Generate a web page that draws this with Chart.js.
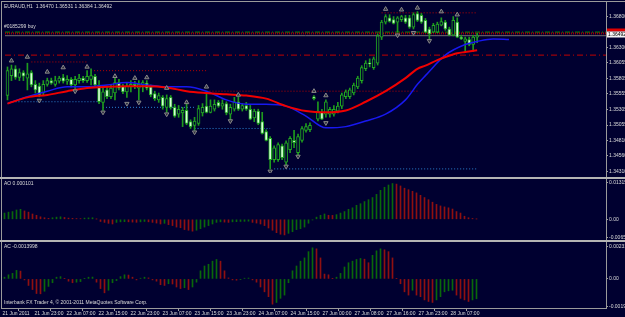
<!DOCTYPE html>
<html>
<head>
<meta charset="utf-8">
<script src="https://cdn.jsdelivr.net/npm/chart.js@4.4.1/dist/chart.umd.min.js"></script>
<style>
html,body{margin:0;padding:0;background:#000030;}
#wrap{position:relative;width:625px;height:317px;overflow:hidden;background:#000030;}
canvas{position:absolute;left:0;}
.ln{position:absolute;background:#9a9a9a;}
.sep{position:absolute;background:#b4b4b4;}
</style>
</head>
<body>
<div id="wrap">
<canvas id="main" width="625" height="178" style="top:0"></canvas>
<canvas id="ao" width="625" height="65" style="top:177px"></canvas>
<canvas id="ac" width="625" height="77" style="top:240px"></canvas>
<div class="ln" style="left:1px;top:1px;width:624px;height:1px"></div>
<div class="ln" style="left:1px;top:1px;width:1px;height:308px"></div>
<div class="ln" style="left:606px;top:1px;width:1px;height:308px"></div>
<div class="ln" style="left:1px;top:308px;width:606px;height:1px"></div>
<div class="sep" style="left:0;top:177px;width:625px;height:2px"></div>
<div class="sep" style="left:0;top:240px;width:625px;height:2px"></div>
</div>
<script>
// EURAUD H1, one entry per bar (index 0 = 21 Jun 2011 15:00)
const open = [1.3553,1.3585,1.3596,1.3582,1.3590,1.3581,1.3590,1.3571,1.3568,1.3557,
1.3571,1.3577,1.3571,1.3576,1.3582,1.3576,1.3579,1.3570,1.3577,1.3581,
1.3577,1.3579,1.3584,1.3570,1.3542,1.3562,1.3551,1.3557,1.3574,1.3568,
1.3559,1.3567,1.3571,1.3565,1.3570,1.3573,1.3567,1.3556,1.3546,1.3550,
1.3534,1.3550,1.3534,1.3523,1.3525,1.3529,1.3511,1.3505,1.3508,1.3525,
1.3536,1.3526,1.3531,1.3542,1.3536,1.3540,1.3523,1.3531,1.3543,1.3531,
1.3537,1.3531,1.3517,1.3528,1.3511,1.3495,1.3484,1.3450,1.3450,1.3472,
1.3446,1.3466,1.3481,1.3461,1.3481,1.3497,1.3498,1.3551,1.3515,1.3526,
1.3523,1.3523,1.3523,1.3528,1.3536,1.3551,1.3551,1.3557,1.3567,1.3577,
1.3596,1.3605,1.3598,1.3605,1.3647,1.3671,1.3678,1.3675,1.3671,1.3675,
1.3678,1.3678,1.3663,1.3685,1.3682,1.3674,1.3660,1.3655,1.3655,1.3666,
1.3671,1.3660,1.3650,1.3671,1.3647,1.3640,1.3643,1.3635,1.3647]
const high = [1.3599,1.3602,1.3601,1.3596,1.3593,1.3605,1.3593,1.3577,1.3573,1.3577,
1.3581,1.3581,1.3584,1.3584,1.3587,1.3585,1.3582,1.3584,1.3587,1.3584,
1.3593,1.3596,1.3587,1.3577,1.3565,1.3567,1.3571,1.3582,1.3579,1.3571,
1.3574,1.3577,1.3576,1.3577,1.3577,1.3577,1.3570,1.3560,1.3557,1.3553,
1.3554,1.3553,1.3539,1.3537,1.3534,1.3540,1.3514,1.3518,1.3537,1.3540,
1.3559,1.3546,1.3546,1.3545,1.3546,1.3543,1.3539,1.3550,1.3551,1.3540,
1.3542,1.3537,1.3531,1.3531,1.3526,1.3498,1.3487,1.3472,1.3477,1.3475,
1.3480,1.3487,1.3497,1.3491,1.3503,1.3508,1.3509,1.3553,1.3543,1.3531,
1.3546,1.3534,1.3537,1.3542,1.3557,1.3562,1.3565,1.3573,1.3584,1.3601,
1.3609,1.3612,1.3615,1.3652,1.3674,1.3683,1.3683,1.3680,1.3680,1.3682,
1.3682,1.3682,1.3686,1.3688,1.3685,1.3677,1.3663,1.3669,1.3671,1.3678,
1.3674,1.3663,1.3680,1.3678,1.3650,1.3647,1.3647,1.3650,1.3653]
const low = [1.3546,1.3577,1.3579,1.3577,1.3577,1.3562,1.3567,1.3557,1.3551,1.3554,
1.3568,1.3571,1.3568,1.3573,1.3573,1.3571,1.3567,1.3562,1.3573,1.3574,
1.3574,1.3570,1.3568,1.3540,1.3529,1.3548,1.3548,1.3546,1.3562,1.3556,
1.3550,1.3559,1.3564,1.3546,1.3559,1.3562,1.3551,1.3545,1.3542,1.3531,
1.3526,1.3531,1.3518,1.3518,1.3503,1.3506,1.3500,1.3497,1.3505,1.3520,
1.3525,1.3525,1.3528,1.3534,1.3531,1.3522,1.3514,1.3528,1.3529,1.3528,
1.3529,1.3514,1.3511,1.3506,1.3491,1.3480,1.3435,1.3446,1.3447,1.3450,
1.3441,1.3461,1.3469,1.3456,1.3478,1.3494,1.3495,1.3546,1.3512,1.3514,
1.3518,1.3518,1.3520,1.3525,1.3532,1.3548,1.3548,1.3554,1.3564,1.3573,
1.3593,1.3599,1.3595,1.3602,1.3643,1.3668,1.3671,1.3668,1.3655,1.3672,
1.3669,1.3661,1.3660,1.3672,1.3669,1.3654,1.3643,1.3654,1.3654,1.3665,
1.3658,1.3649,1.3649,1.3646,1.3643,1.3624,1.3633,1.3624,1.3638]
const close = [1.3593,1.3596,1.3582,1.3590,1.3584,1.3588,1.3570,1.3562,1.3554,1.3571,
1.3577,1.3573,1.3577,1.3581,1.3576,1.3579,1.3570,1.3579,1.3581,1.3577,
1.3584,1.3585,1.3570,1.3543,1.3559,1.3551,1.3565,1.3574,1.3565,1.3559,
1.3568,1.3571,1.3567,1.3571,1.3574,1.3565,1.3554,1.3548,1.3553,1.3536,
1.3548,1.3534,1.3520,1.3531,1.3529,1.3508,1.3503,1.3512,1.3532,1.3534,
1.3526,1.3536,1.3539,1.3536,1.3540,1.3525,1.3534,1.3543,1.3531,1.3537,
1.3531,1.3515,1.3528,1.3508,1.3492,1.3481,1.3450,1.3469,1.3474,1.3453,
1.3477,1.3484,1.3477,1.3487,1.3500,1.3503,1.3505,1.3548,1.3528,1.3515,
1.3543,1.3531,1.3531,1.3536,1.3554,1.3559,1.3562,1.3570,1.3581,1.3598,
1.3605,1.3604,1.3612,1.3649,1.3671,1.3680,1.3672,1.3669,1.3678,1.3680,
1.3671,1.3663,1.3683,1.3674,1.3671,1.3655,1.3652,1.3666,1.3668,1.3672,
1.3660,1.3650,1.3674,1.3647,1.3644,1.3644,1.3635,1.3647,1.3649]

// moving averages, read at some bars (blue one is shifted forward)
const redIdx = [0,5,10,15,20,25,30,35,40,45,50,55,60,65,70,75,80,85,90,95,100,103,105,108,110,113,115,118]
const redMA = [1.3540,1.3550,1.3554,1.3560,1.3565,1.3567,1.3568,1.3568,1.3566,1.3560,
1.3557,1.3555,1.3553,1.3548,1.3536,1.3528,1.3526,1.3529,1.3543,1.3560,
1.3581,1.3596,1.3601,1.3610,1.3615,1.3621,1.3623,1.3626]
const blueIdx = [0,5,10,15,20,25,30,35,40,45,50,55,60,65,70,75,80,85,90,95,100,103,105,110,115,118,122,126]
const blueMA = [1.3540,1.3551,1.3560,1.3567,1.3567,1.3570,1.3574,1.3570,1.3567,1.3567,
1.3560,1.3546,1.3539,1.3539,1.3536,1.3520,1.3501,1.3503,1.3512,1.3523,
1.3546,1.3571,1.3585,1.3618,1.3635,1.3640,1.3644,1.3643]

// fractals
const upIdx = [1,5,10,14,20,27,32,35,40,45,50,58,77,80,95,99,103,109,113]
const upFr = [1.3609,1.3615,1.3591,1.3598,1.3599,1.3584,1.3581,1.3582,1.3565,1.3542,1.3567,1.3554,1.3560,1.3553,1.3692,1.3691,1.3694,1.3688,1.3683]
const dnIdx = [8,17,24,30,33,40,47,56,66,70,73,80,98,102,106]
const dnFr = [1.3545,1.3560,1.3526,1.3540,1.3542,1.3523,1.3494,1.3512,1.3431,1.3439,1.3455,1.3509,1.3650,1.3654,1.3641]

// levels
const buyPrice = 1.3655
const stopPrice = 1.3653
const bidPrice = 1.36492
const redLevel = 1.3618
const resPrice = [1.3607,1.3593,1.3560,1.3686]
const resFrom = [6,21,50,94]
const resTo = [20,50,103,118]
const supPrice = [1.3543,1.3534,1.3500,1.3435]
const supFrom = [2,24,47,67]
const supTo = [23,47,66,118]

// Awesome / Accelerator oscillators
const ao = [0.00226,0.00259,0.00280,0.00337,0.00361,0.00303,0.00259,0.00192,0.00145,0.00091,
0.00057,0.00034,0.00057,0.00078,0.00091,0.00067,0.00044,0.00034,0.00027,0.00024,
0.00044,0.00051,0.00057,0.00007,-0.00078,-0.00111,-0.00145,-0.00169,-0.00111,-0.00091,
-0.00084,-0.00091,-0.00101,-0.00108,-0.00091,-0.00078,-0.00091,-0.00111,-0.00135,-0.00169,
-0.00145,-0.00192,-0.00226,-0.00280,-0.00303,-0.00371,-0.00394,-0.00428,-0.00394,-0.00337,
-0.00280,-0.00226,-0.00169,-0.00111,-0.00091,-0.00101,-0.00111,-0.00091,-0.00084,-0.00078,
-0.00074,-0.00067,-0.00111,-0.00135,-0.00169,-0.00226,-0.00313,-0.00394,-0.00482,-0.00539,
-0.00563,-0.00506,-0.00448,-0.00371,-0.00337,-0.00280,-0.00142,-0.00024,0.00078,0.00145,
0.00192,0.00145,0.00142,0.00169,0.00226,0.00280,0.00361,0.00415,0.00506,0.00563,
0.00640,0.00708,0.00785,0.00900,0.01045,0.01156,0.01237,0.01291,0.01270,0.01203,
0.01122,0.01068,0.01011,0.00954,0.00866,0.00785,0.00708,0.00617,0.00539,0.00482,
0.00448,0.00415,0.00371,0.00280,0.00226,0.00111,0.00057,0.00030,0.00010]
const ac = [0.00012,0.00029,0.00039,0.00060,0.00055,-0.00007,-0.00046,-0.00075,-0.00103,-0.00105,
-0.00087,-0.00053,-0.00027,0.00012,0.00016,0.00002,-0.00016,-0.00027,-0.00023,-0.00019,
0.00002,0.00012,0.00013,-0.00023,-0.00068,-0.00098,-0.00080,-0.00027,-0.00012,0.00016,
0.00029,0.00027,0.00012,-0.00007,0.00005,0.00012,0.00007,-0.00007,-0.00016,-0.00041,
-0.00046,-0.00034,-0.00036,-0.00057,-0.00068,-0.00062,-0.00075,-0.00057,-0.00023,0.00057,
0.00091,0.00103,0.00125,0.00137,0.00125,0.00057,0.00007,-0.00007,-0.00009,-0.00005,
0.00005,0.00006,-0.00007,-0.00023,-0.00057,-0.00091,-0.00125,-0.00178,-0.00166,-0.00137,
-0.00114,-0.00027,0.00057,0.00091,0.00125,0.00148,0.00192,0.00219,0.00212,0.00148,
0.00034,0.00029,0.00002,0.00012,0.00039,0.00084,0.00114,0.00125,0.00137,0.00144,
0.00139,0.00114,0.00166,0.00198,0.00212,0.00205,0.00192,0.00148,0.00002,-0.00034,
-0.00091,-0.00114,-0.00080,-0.00114,-0.00125,-0.00148,-0.00159,-0.00166,-0.00148,-0.00125,
-0.00091,-0.00084,-0.00080,-0.00114,-0.00137,-0.00148,-0.00159,-0.00148,-0.00140]

// tick labels
const priceTicks = [1.3680,1.3630,1.36055,1.35805,1.35555,1.35305,1.35055,1.3481,1.3456,1.3431]
const priceText = ['1.36800','1.36300','1.36055','1.35805','1.35555','1.35305','1.35055','1.34810','1.34560','1.34310']
const aoTicks = [0.01315,0,-0.00657]
const aoText = ['0.01315','0.00','-0.00657']
const acTicks = [0.00231,0,-0.00193]
const acText = ['0.00231','0.00','-0.00193']
const timeIdx = [0,8,16,24,32,40,48,56,64,72,80,88,96,104,112]
const timeText = ['21 Jun 2011','21 Jun 23:00','22 Jun 07:00','22 Jun 15:00','22 Jun 23:00','23 Jun 07:00',
'23 Jun 15:00','23 Jun 23:00','24 Jun 07:00','24 Jun 15:00','27 Jun 00:00','27 Jun 08:00','27 Jun 16:00',
'27 Jun 23:00','28 Jun 07:00']

// 4 px per bar, bar centres on half pixels so 1px lines stay sharp
const X_MIN = -0.625, X_MAX = 150.375
const FONT = {family:'"Liberation Sans", Arial, sans-serif', size:5}
const TXT = '#dcdcdc'
const GREEN = '#0a680a', RED = '#901010'

const pts = (idx, vals) => idx.map((x,k)=>({x:x, y:vals[k]}))
const seq = vals => vals.map((y,x)=>({x:x, y:y}))
const lvl = (y, x0, x1, color, dash, w) => ({type:'line', data:[{x:x0,y:y},{x:x1,y:y}],
    borderColor:color, borderDash:dash, borderWidth:w||1, pointRadius:0, order:6})

// small texts drawn on the canvas
const notes = {
    id:'notes',
    afterDraw(chart, args, opts){
        const ctx = chart.ctx
        ctx.save()
        ;(opts.items||[]).forEach(t=>{
            if(t.box){ ctx.fillStyle=t.box; ctx.fillRect(t.bx,t.by,t.bw,t.bh) }
            if(t.text){
                ctx.font = '5px "Liberation Sans", Arial, sans-serif'
                ctx.fillStyle = t.color||TXT
                ctx.textBaseline = 'middle'
                ctx.textAlign = 'left'
                ctx.fillText(t.text,t.x,t.y)
            }
        })
        ctx.restore()
    }
}

const xHidden = {type:'linear', min:X_MIN, max:X_MAX, offset:false, display:false}
const yRight = (min,max,ticks,texts)=>({
    position:'right', min:min, max:max,
    afterFit(s){ s.width = 19 },
    afterBuildTicks(s){ s.ticks = ticks.map(v=>({value:v})) },
    ticks:{callback:(v,i)=>texts[i], font:FONT, color:TXT, padding:1, autoSkip:false},
    grid:{drawOnChartArea:false, drawTicks:true, tickLength:2, color:'#a0a0a0'},
    border:{display:false}
})
const base = (pad, items)=>({
    responsive:false, animation:false, devicePixelRatio:1, events:[],
    layout:{padding:pad},
    plugins:{legend:{display:false}, tooltip:{enabled:false}, notes:{items:items}}
})

// main price panel
const bull = close.map((c,i)=>c>=open[i])
const levels = [
    lvl(redLevel, X_MIN, X_MAX, '#c00000', [6,3,1,3]),
    lvl(bidPrice, X_MIN, X_MAX, '#707070', []),
    lvl(stopPrice, X_MIN, X_MAX, '#a00000', [1,1], 2),
    lvl(buyPrice, X_MIN, X_MAX, '#00a000', [5,2,1,2])
]
resPrice.forEach((p,k)=>levels.push(lvl(p, resFrom[k], resTo[k], '#b80000', [1,2])))
supPrice.forEach((p,k)=>levels.push(lvl(p, supFrom[k], supTo[k], '#2a80d0', [1,2])))

new Chart(document.getElementById('main'), {
    type:'bar',
    data:{datasets:[
        ...levels,
        {type:'bar', data:low.map((l,i)=>({x:i, y:[l, high[i]]})), barThickness:1,
         backgroundColor:'#1e9a1e', grouped:false, order:5},
        {type:'bar', data:open.map((o,i)=>({x:i, y:[o, close[i]]})), barThickness:3,
         backgroundColor:bull.map(u=>u?'#000030':'#d6ffd6'), borderColor:'#22a822', borderWidth:1,
         borderSkipped:false, minBarLength:1, grouped:false, order:4},
        {type:'line', data:pts(redIdx, redMA), borderColor:'#f00000', borderWidth:2, pointRadius:0,
         cubicInterpolationMode:'monotone', order:3},
        {type:'line', data:pts(blueIdx, blueMA), borderColor:'#1818f0', borderWidth:1.5, pointRadius:0,
         cubicInterpolationMode:'monotone', order:3},
        {type:'line', data:pts(upIdx, upFr), showLine:false, pointStyle:'triangle', pointRadius:2.5,
         pointRotation:0, pointBorderColor:'#888888', pointBackgroundColor:'#2c2c3c', pointBorderWidth:1, order:2},
        {type:'line', data:pts(dnIdx, dnFr), showLine:false, pointStyle:'triangle', pointRadius:2.5,
         pointRotation:180, pointBorderColor:'#888888', pointBackgroundColor:'#2c2c3c', pointBorderWidth:1, order:2}
    ]},
    options:Object.assign(base({left:2, right:0, top:2, bottom:2}, [
        {text:'EURAUD,H1  1.36470 1.36531 1.36384 1.36492', x:4, y:7},
        {text:'#0185299 buy', x:4, y:27},
        {box:'#e00000', bx:607, by:28.5, bw:18, bh:3},
        {box:'#f4f4f4', bx:607, by:31.5, bw:18, bh:6, text:'1.36492', x:608, y:34.5, color:'#000000'}
    ]), {scales:{x:xHidden, y:yRight(1.34284, 1.36986, priceTicks, priceText)}}),
    plugins:[notes]
})

// Awesome oscillator
new Chart(document.getElementById('ao'), {
    type:'bar',
    data:{datasets:[{data:seq(ao), barThickness:1,
        backgroundColor:ao.map((v,i)=>(i===0||v>ao[i-1])?GREEN:RED)}]},
    options:Object.assign(base({left:2, right:0, top:2, bottom:2}, [
        {text:'AO 0.000101', x:4, y:7}
    ]), {scales:{x:xHidden, y:yRight(-0.00674, 0.01382, aoTicks, aoText)}}),
    plugins:[notes]
})

// Accelerator oscillator + time axis
new Chart(document.getElementById('ac'), {
    type:'bar',
    data:{datasets:[{data:seq(ac), barThickness:1,
        backgroundColor:ac.map((v,i)=>(i===0||v>ac[i-1])?GREEN:RED)}]},
    options:Object.assign(base({left:2, right:0, top:2, bottom:0}, [
        {text:'AC -0.0013998', x:4, y:7},
        {text:'Interbank FX Trader 4, \u00a9 2001-2011 MetaQuotes Software Corp.', x:4, y:63}
    ]), {scales:{
        x:{type:'linear', min:X_MIN, max:X_MAX, offset:false, position:'bottom',
           afterFit(s){ s.height = 9 },
           afterBuildTicks(s){ s.ticks = timeIdx.map(i=>({value:i-0.5})) },
           ticks:{callback:(v,i)=>timeText[i], align:'start', autoSkip:false, maxRotation:0, minRotation:0,
                  font:FONT, color:TXT, padding:0},
           grid:{drawOnChartArea:false, drawTicks:true, tickLength:3, color:'#a0a0a0'},
           border:{display:false}},
        y:yRight(-0.00205, 0.00246, acTicks, acText)
    }}),
    plugins:[notes]
})
</script>
</body>
</html>
